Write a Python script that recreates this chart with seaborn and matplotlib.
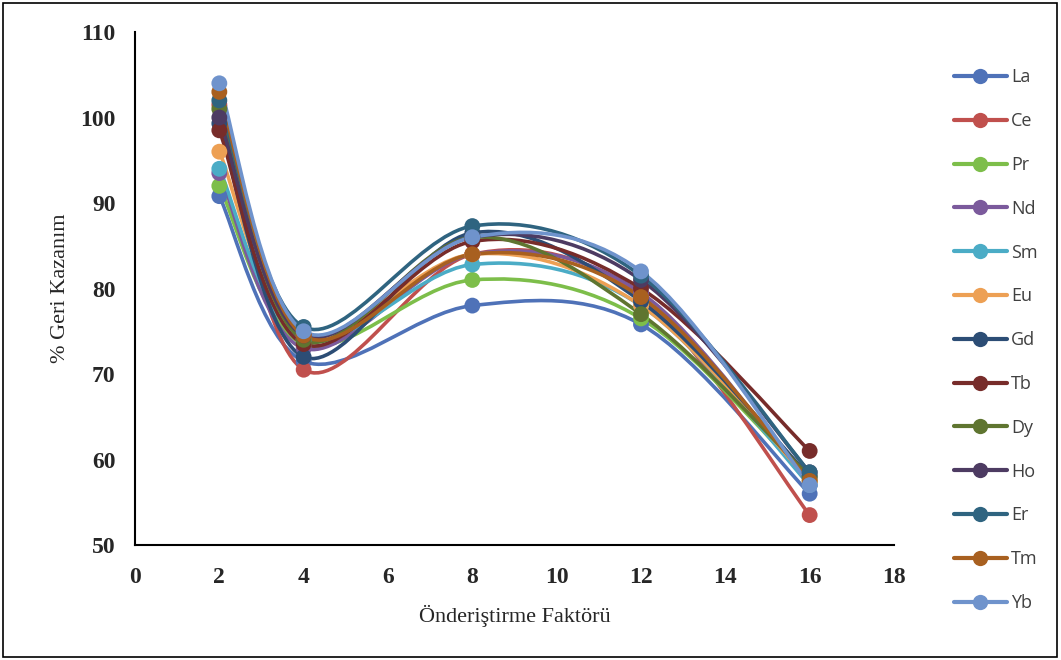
import seaborn as sns
import matplotlib.pyplot as plt
import pandas as pd
from matplotlib.path import Path
from matplotlib.patches import PathPatch, Rectangle
from matplotlib.lines import Line2D

x_vals = [2, 4, 8, 12, 16]

elements = ["La", "Ce", "Pr", "Nd", "Sm", "Eu", "Gd", "Tb", "Dy", "Ho", "Er", "Tm", "Yb"]

La = [90.8, 71.5, 78.0, 75.8, 56.0]
Ce = [101.5, 70.5, 84.0, 79.0, 53.5]
Pr = [92.0, 73.5, 81.0, 76.5, 57.5]
Nd = [93.5, 73.0, 84.0, 79.5, 57.0]
Sm = [94.0, 74.0, 82.8, 78.0, 57.0]
Eu = [96.0, 74.5, 84.0, 78.0, 57.5]
Gd = [99.3, 72.0, 86.5, 78.5, 58.0]
Tb = [98.5, 73.5, 85.5, 80.0, 61.0]
Dy = [101.0, 74.0, 86.0, 77.0, 58.0]
Ho = [100.0, 74.5, 86.0, 81.0, 58.5]
Er = [102.0, 75.5, 87.3, 81.5, 58.5]
Tm = [103.0, 74.5, 84.0, 79.0, 57.5]
Yb = [104.0, 75.0, 86.0, 82.0, 57.0]

series = [La, Ce, Pr, Nd, Sm, Eu, Gd, Tb, Dy, Ho, Er, Tm, Yb]

colors = ["#4F72B8", "#C0504D", "#7DBE4A", "#7B5A9C", "#4BACC6", "#EDA054",
          "#2C4D75", "#772C2A", "#5F7530", "#4D3B62", "#2F6480", "#A86020", "#6F93CC"]
palette = dict(zip(elements, colors))

rows = []
for name, vals in zip(elements, series):
    for xv, yv in zip(x_vals, vals):
        rows.append({"x": xv, "y": yv, "element": name})
df = pd.DataFrame(rows)

sns.set_style("white")
plt.rcParams["font.family"] = ["Liberation Serif", "DejaVu Serif"]

fig = plt.figure(figsize=(10.61, 6.6), dpi=100)
ax = fig.add_axes([135 / 1061, 1 - 545 / 660, (894 - 135) / 1061, (545 - 32) / 660])


def smooth_path(xs, ys):
    # Excel-style smoothed line: cubic bezier segments
    pts = list(zip(xs, ys))
    n = len(pts)
    verts = [pts[0]]
    codes = [Path.MOVETO]
    for i in range(n - 1):
        p0 = pts[i - 1] if i > 0 else pts[i]
        p1 = pts[i]
        p2 = pts[i + 1]
        p3 = pts[i + 2] if i + 2 < n else pts[i + 1]
        c1 = (p1[0] + (p2[0] - p0[0]) / 6, p1[1] + (p2[1] - p0[1]) / 6)
        c2 = (p2[0] - (p3[0] - p1[0]) / 6, p2[1] - (p3[1] - p1[1]) / 6)
        verts += [c1, c2, p2]
        codes += [Path.CURVE4] * 3
    return Path(verts, codes)


for i, name in enumerate(elements):
    sub = df[df["element"] == name]
    patch = PathPatch(smooth_path(sub["x"].tolist(), sub["y"].tolist()),
                      facecolor="none", edgecolor=palette[name], lw=2.6,
                      zorder=2 + i * 0.01)
    ax.add_patch(patch)

sns.scatterplot(data=df, x="x", y="y", hue="element", palette=palette,
                s=130, edgecolor="none", legend=False, ax=ax, zorder=3)

ax.set_xlim(0, 18)
ax.set_ylim(50, 110)
ax.set_xticks(range(0, 19, 2))
ax.set_yticks(range(50, 111, 10))
ax.tick_params(axis="both", labelsize=17, length=0)
ax.tick_params(axis="x", pad=16)
ax.tick_params(axis="y", pad=14)
for lab in ax.get_xticklabels() + ax.get_yticklabels():
    lab.set_fontweight("bold")
ax.set_xlabel("Önderiştirme Faktörü", fontsize=16, labelpad=12)
ax.set_ylabel("% Geri Kazanım", fontsize=16, labelpad=7)
sns.despine(ax=ax)
ax.spines["left"].set_color("black")
ax.spines["bottom"].set_color("black")
ax.spines["left"].set_linewidth(1.5)
ax.spines["bottom"].set_linewidth(1.5)

handles = [Line2D([0], [0], color=palette[n], lw=3, marker="o",
                  markersize=11, markeredgewidth=0) for n in elements]
leg = fig.legend(handles, elements, loc="upper left",
                 bbox_to_anchor=(938 / 1061, 1 - 52 / 660), frameon=False,
                 handlelength=2.9, handletextpad=0.25, labelspacing=1.43,
                 prop={"family": "Open Sans", "size": 13})
for t in leg.get_texts():
    t.set_color("#404040")

fig.add_artist(Rectangle((0.003, 0.005), 0.993, 0.99, transform=fig.transFigure,
                         fill=False, lw=1.2, edgecolor="black"))

fig.savefig("out.png", dpi=100)
